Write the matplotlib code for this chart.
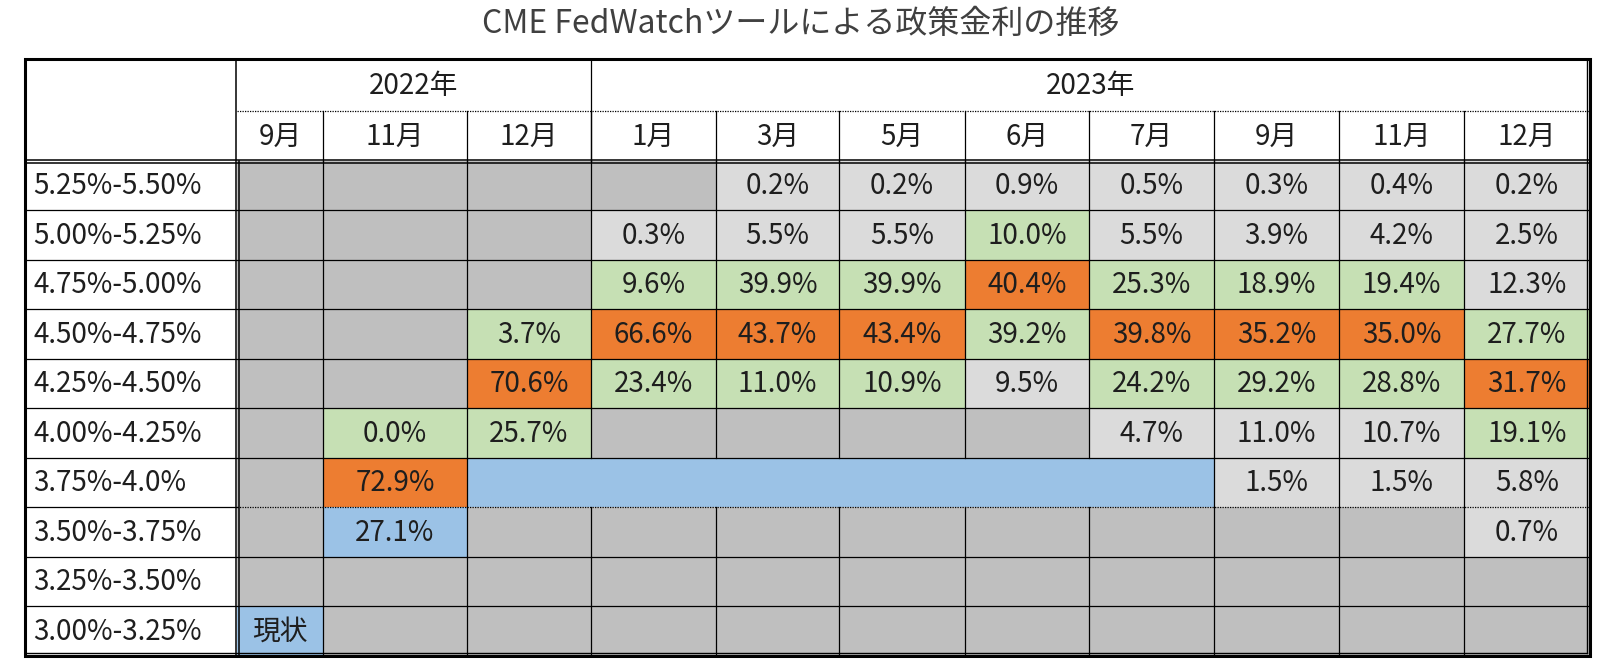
import matplotlib.pyplot as plt
from matplotlib.patches import Rectangle

plt.rcParams['font.family'] = ['Noto Sans CJK JP', 'DejaVu Sans']

# --- data ---
title = "CME FedWatchツールによる政策金利の推移"
years = ["2022年", "2023年"]
year_span = [3, 8]  # number of month columns per year
months = ["9月", "11月", "12月", "1月", "3月", "5月", "6月", "7月", "9月", "11月", "12月"]
rate_bands = ["5.25%-5.50%", "5.00%-5.25%", "4.75%-5.00%", "4.50%-4.75%", "4.25%-4.50%",
              "4.00%-4.25%", "3.75%-4.0%", "3.50%-3.75%", "3.25%-3.50%", "3.00%-3.25%"]

# probability text per row (None = empty cell)
probs = [
    [None, None, None, None, "0.2%", "0.2%", "0.9%", "0.5%", "0.3%", "0.4%", "0.2%"],
    [None, None, None, "0.3%", "5.5%", "5.5%", "10.0%", "5.5%", "3.9%", "4.2%", "2.5%"],
    [None, None, None, "9.6%", "39.9%", "39.9%", "40.4%", "25.3%", "18.9%", "19.4%", "12.3%"],
    [None, None, "3.7%", "66.6%", "43.7%", "43.4%", "39.2%", "39.8%", "35.2%", "35.0%", "27.7%"],
    [None, None, "70.6%", "23.4%", "11.0%", "10.9%", "9.5%", "24.2%", "29.2%", "28.8%", "31.7%"],
    [None, "0.0%", "25.7%", None, None, None, None, "4.7%", "11.0%", "10.7%", "19.1%"],
    [None, "72.9%", None, None, None, None, None, None, "1.5%", "1.5%", "5.8%"],
    [None, "27.1%", None, None, None, None, None, None, None, None, "0.7%"],
    [None, None, None, None, None, None, None, None, None, None, None],
    ["現状", None, None, None, None, None, None, None, None, None, None],
]

# cell shading: d=dark gray, l=light gray, g=green, o=orange, b=blue
shade = [
    "ddddlllllll",
    "dddlllgllll",
    "dddgggogggl",
    "ddgooogooog",
    "ddoggglgggo",
    "dggddddlllg",
    "dobbbbbblll",
    "dbddddddddl",
    "ddddddddddd",
    "bdddddddddd",
]
merged_blue = (6, 2, 7)  # row, first col, last col merged without inner borders

colors = {"d": "#BFBFBF", "l": "#DBDBDB", "g": "#C6E0B4", "o": "#ED7D31", "b": "#9BC2E6"}

# --- layout (pixels) ---
fig = plt.figure(figsize=(16.01, 6.65), dpi=100)
ax = fig.add_axes([0, 0, 1, 1])
ax.set_xlim(0, 1601)
ax.set_ylim(665, 0)
ax.axis('off')

x0, label_w = 25, 212
col_w = [86, 144, 124, 125, 123, 126, 124, 125, 125, 125, 126]
y_top, year_h, month_h, row_h = 59, 51.5, 50, 49.5

col_x = [x0 + label_w]
for w in col_w:
    col_x.append(col_x[-1] + w)
x_end = col_x[-1]
y_month = y_top + year_h
y_data = y_month + month_h
row_y = [y_data + i * row_h for i in range(len(rate_bands) + 1)]
y_end = row_y[-1]

txt_color = "#1e1e1e"
fs = 20
lw_thin = 0.9

# cells
for r, band in enumerate(rate_bands):
    for c in range(len(months)):
        ax.add_patch(Rectangle((col_x[c], row_y[r]), col_w[c], row_h,
                               facecolor=colors[shade[r][c]], edgecolor='none'))
        if probs[r][c]:
            ax.text(col_x[c] + col_w[c] / 2, row_y[r] + row_h / 2 + 1, probs[r][c],
                    ha='center', va='center', fontsize=fs, color=txt_color)
    ax.text(x0 + 8, row_y[r] + row_h / 2 + 1, band, ha='left', va='center',
            fontsize=fs, color=txt_color)

# horizontal grid lines in body
for i in range(1, len(rate_bands)):
    y = row_y[i]
    if i == merged_blue[0] + 1:
        ax.plot([x0, col_x[0]], [y, y], color='black', lw=lw_thin)
        ax.plot([col_x[0], x_end], [y, y], color='black', lw=0.9, ls=(0, (1, 1)))
    else:
        ax.plot([x0, x_end], [y, y], color='black', lw=lw_thin)

# vertical grid lines in body
mr, mc0, mc1 = merged_blue
for c in range(1, len(months)):
    x = col_x[c]
    for r in range(len(rate_bands)):
        if r == mr and mc0 < c <= mc1:
            continue
        ax.plot([x, x], [row_y[r], row_y[r + 1]], color='black', lw=lw_thin)

# header: years
start = 0
for yr, span in zip(years, year_span):
    xa, xb = col_x[start], col_x[start + span]
    ax.text((xa + xb) / 2, y_top + year_h / 2 + 1, yr, ha='center', va='center',
            fontsize=fs, color=txt_color)
    start += span
ax.plot([col_x[year_span[0]]] * 2, [y_top, y_data], color='black', lw=lw_thin)
ax.plot([col_x[0], x_end], [y_month, y_month], color='black', lw=0.9, ls=(0, (1, 1)))

# header: months
for c, m in enumerate(months):
    ax.text(col_x[c] + col_w[c] / 2, y_month + month_h / 2 + 1, m, ha='center', va='center',
            fontsize=fs, color=txt_color)
    if c > 0:
        ax.plot([col_x[c]] * 2, [y_month, y_data], color='black', lw=lw_thin)

# double lines: header bottom and label column
ax.plot([x0, x_end], [y_data - 1, y_data - 1], color='black', lw=1.1)
ax.plot([x0, x_end], [y_data + 2, y_data + 2], color='black', lw=1.1)
ax.plot([col_x[0] - 1.5] * 2, [y_top, y_end], color='black', lw=1.1)
ax.plot([col_x[0] + 1.5] * 2, [y_data, y_end], color='black', lw=1.1)

# outer border (thick + inner thin)
ax.add_patch(Rectangle((x0, y_top), x_end - x0, y_end - y_top, fill=False,
                       edgecolor='black', lw=2.2))
ax.plot([x_end - 3, x_end - 3], [y_top, y_end - 3], color='black', lw=1.0)
ax.plot([x0, x_end - 3], [y_end - 3, y_end - 3], color='black', lw=1.0)

ax.text(1601 / 2, 24, title, ha='center', va='center', fontsize=23, color='#404040')

plt.savefig("out.png", dpi=100)
plt.close()
